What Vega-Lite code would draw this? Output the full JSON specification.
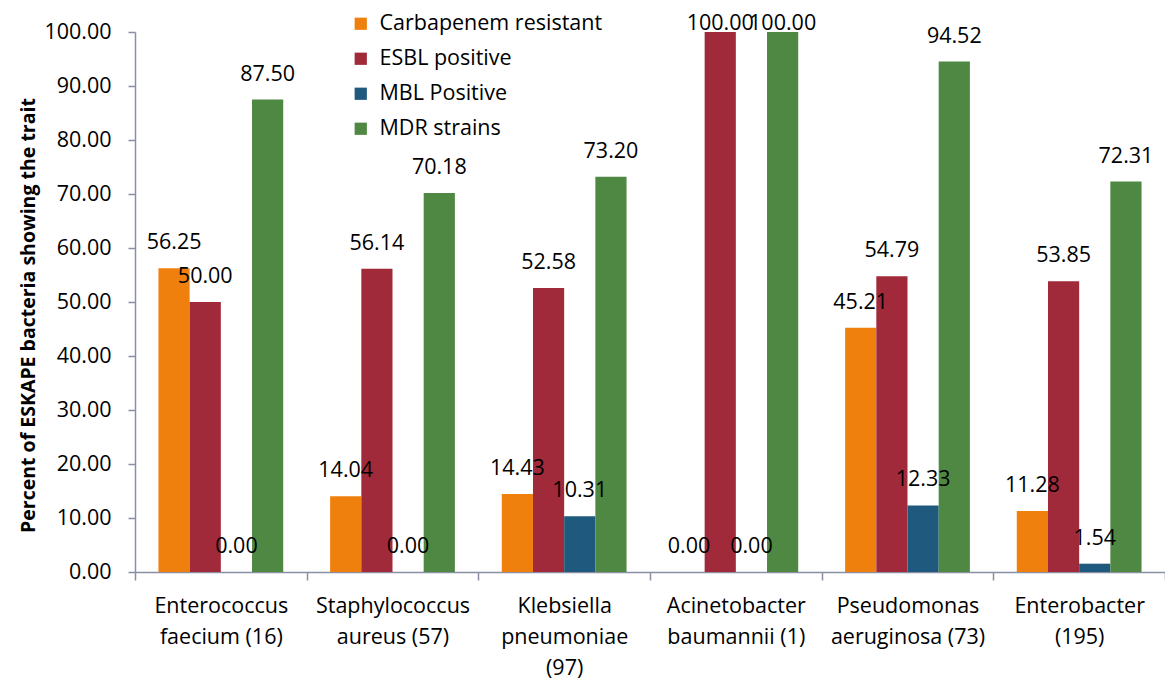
{
  "$schema": "https://vega.github.io/schema/vega-lite/v6.json",
  "width": 1030,
  "height": 540,
  "autosize": {"type": "none"},
  "padding": {"left": 135, "top": 32, "right": 0, "bottom": 107},
  "background": "white",
  "config": {"view": {"stroke": null}, "font": "Open Sans"},
  "data": {
    "values": [
      {"org": "Enterococcus|faecium (16)", "trait": "Carbapenem resistant", "value": 56.25},
      {"org": "Enterococcus|faecium (16)", "trait": "ESBL positive", "value": 50.00},
      {"org": "Enterococcus|faecium (16)", "trait": "MBL Positive", "value": 0.00},
      {"org": "Enterococcus|faecium (16)", "trait": "MDR strains", "value": 87.50},
      {"org": "Staphylococcus|aureus (57)", "trait": "Carbapenem resistant", "value": 14.04},
      {"org": "Staphylococcus|aureus (57)", "trait": "ESBL positive", "value": 56.14},
      {"org": "Staphylococcus|aureus (57)", "trait": "MBL Positive", "value": 0.00},
      {"org": "Staphylococcus|aureus (57)", "trait": "MDR strains", "value": 70.18},
      {"org": "Klebsiella|pneumoniae|(97)", "trait": "Carbapenem resistant", "value": 14.43},
      {"org": "Klebsiella|pneumoniae|(97)", "trait": "ESBL positive", "value": 52.58},
      {"org": "Klebsiella|pneumoniae|(97)", "trait": "MBL Positive", "value": 10.31},
      {"org": "Klebsiella|pneumoniae|(97)", "trait": "MDR strains", "value": 73.20},
      {"org": "Acinetobacter|baumannii (1)", "trait": "Carbapenem resistant", "value": 0.00},
      {"org": "Acinetobacter|baumannii (1)", "trait": "ESBL positive", "value": 100.00},
      {"org": "Acinetobacter|baumannii (1)", "trait": "MBL Positive", "value": 0.00},
      {"org": "Acinetobacter|baumannii (1)", "trait": "MDR strains", "value": 100.00},
      {"org": "Pseudomonas|aeruginosa (73)", "trait": "Carbapenem resistant", "value": 45.21},
      {"org": "Pseudomonas|aeruginosa (73)", "trait": "ESBL positive", "value": 54.79},
      {"org": "Pseudomonas|aeruginosa (73)", "trait": "MBL Positive", "value": 12.33},
      {"org": "Pseudomonas|aeruginosa (73)", "trait": "MDR strains", "value": 94.52},
      {"org": "Enterobacter|(195)", "trait": "Carbapenem resistant", "value": 11.28},
      {"org": "Enterobacter|(195)", "trait": "ESBL positive", "value": 53.85},
      {"org": "Enterobacter|(195)", "trait": "MBL Positive", "value": 1.54},
      {"org": "Enterobacter|(195)", "trait": "MDR strains", "value": 72.31}
    ]
  },
  "encoding": {
    "x": {
      "field": "org",
      "type": "nominal",
      "sort": null,
      "scale": {"paddingInner": 0, "paddingOuter": 0},
      "axis": {
        "title": null,
        "labelExpr": "split(datum.label, '|')",
        "tickBand": "extent",
        "labelAngle": 0,
        "labelFontSize": 21.5,
        "labelColor": "black",
        "labelLineHeight": 31,
        "labelPadding": 15,
        "labelLimit": 0,
        "tickSize": 8,
        "domainColor": "#8B8FA3",
        "tickColor": "#8B8FA3",
        "domainWidth": 1.5,
        "tickWidth": 1.5
      }
    },
    "xOffset": {
      "field": "trait",
      "sort": ["Carbapenem resistant", "ESBL positive", "MBL Positive", "MDR strains"],
      "scale": {"paddingInner": 0, "paddingOuter": 0.752}
    },
    "y": {
      "field": "value",
      "type": "quantitative",
      "scale": {"domain": [0, 100]},
      "axis": {
        "title": "Percent of ESKAPE bacteria showing the trait",
        "titleFontSize": 19.5,
        "titleFontWeight": "bold",
        "titleColor": "black",
        "titlePadding": 5,
        "titleY": 283,
        "values": [0, 10, 20, 30, 40, 50, 60, 70, 80, 90, 100],
        "format": ".2f",
        "labelFontSize": 21.5,
        "labelColor": "black",
        "labelPadding": 17,
        "tickSize": 7,
        "grid": false,
        "domainColor": "#8B8FA3",
        "tickColor": "#8B8FA3",
        "domainWidth": 1.5,
        "tickWidth": 1.5
      }
    }
  },
  "layer": [
    {
      "mark": {"type": "bar"},
      "encoding": {
        "color": {
          "field": "trait",
          "type": "nominal",
          "sort": ["Carbapenem resistant", "ESBL positive", "MBL Positive", "MDR strains"],
          "scale": {
            "domain": ["Carbapenem resistant", "ESBL positive", "MBL Positive", "MDR strains"],
            "range": ["#F0800E", "#A12A3A", "#1F5A7E", "#4F8843"]
          },
          "legend": {
            "title": null,
            "orient": "none",
            "legendX": 215,
            "legendY": -19,
            "symbolType": "square",
            "symbolSize": 150,
            "symbolStrokeWidth": 0,
            "labelFontSize": 21.5,
            "labelColor": "black",
            "labelOffset": 8,
            "rowPadding": 12,
            "labelLimit": 0
          }
        }
      }
    },
    {
      "mark": {"type": "text", "dy": {"expr": "datum.value >= 100 ? -8 : -25"}, "fontSize": 21.5, "baseline": "middle", "color": "black"},
      "encoding": {
        "text": {"field": "value", "type": "quantitative", "format": ".2f"}
      }
    }
  ]
}
